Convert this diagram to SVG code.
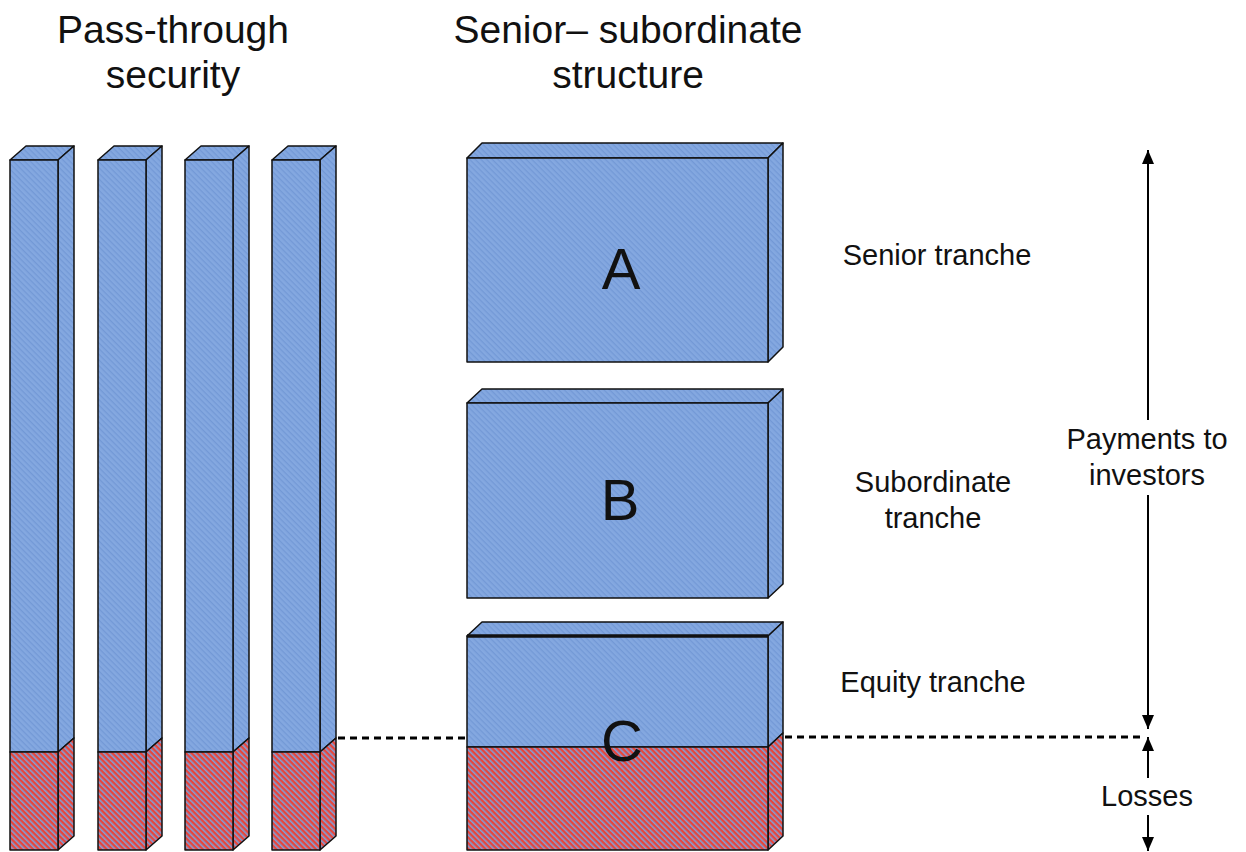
<svg xmlns="http://www.w3.org/2000/svg" width="1246" height="852" viewBox="0 0 1246 852">
<defs>
<pattern id="blue" width="4" height="4" patternUnits="userSpaceOnUse" patternTransform="rotate(45)">
<rect width="4" height="4" fill="#84a8e0"/>
<rect width="4" height="1.3" fill="#7399d6"/>
</pattern>
<pattern id="red" width="4" height="4" patternUnits="userSpaceOnUse" patternTransform="rotate(45)">
<rect width="4" height="4" fill="#7fa0da"/>
<rect width="4" height="2.4" fill="#e8453a"/>
</pattern>
<marker id="ah" viewBox="0 0 14 12" refX="14" refY="6" markerWidth="14" markerHeight="12" markerUnits="userSpaceOnUse" orient="auto">
<path d="M0,0 L14,6 L0,12 z" fill="#000"/>
</marker>
</defs>
<style>
.f{stroke:#111;stroke-width:1.5;stroke-linejoin:round}
.b{fill:url(#blue)}
.r{fill:url(#red)}
.t{font-family:"Liberation Sans",Arial,sans-serif;fill:#111;text-anchor:middle}
.h{font-size:39px}
.l{font-size:29px}
.L{font-size:58px}
.c{stroke:#000;stroke-width:2;fill:none}
.d{stroke:#000;stroke-width:3;stroke-dasharray:7,5;fill:none}
</style>

<g id="titles">
<text class="t h" x="173" y="43">Pass-through</text>
<text class="t h" x="173" y="88">security</text>
<text class="t h" x="628" y="43">Senior– subordinate</text>
<text class="t h" x="628" y="88">structure</text>
</g>

<g id="pillar1">
<path class="f b" d="M10,160 L26,146 L74,146 L58,160 Z"/>
<path class="f b" d="M58,160 L74,146 L74,738 L58,752 Z"/>
<path class="f r" d="M58,752 L74,738 L74,836 L58,850 Z"/>
<rect class="f b" x="10" y="160" width="48" height="592"/>
<rect class="f r" x="10" y="752" width="48" height="98"/>
</g>
<g id="pillar2">
<path class="f b" d="M98,160 L114,146 L162,146 L146,160 Z"/>
<path class="f b" d="M146,160 L162,146 L162,738 L146,752 Z"/>
<path class="f r" d="M146,752 L162,738 L162,836 L146,850 Z"/>
<rect class="f b" x="98" y="160" width="48" height="592"/>
<rect class="f r" x="98" y="752" width="48" height="98"/>
</g>
<g id="pillar3">
<path class="f b" d="M185,160 L201,146 L249,146 L233,160 Z"/>
<path class="f b" d="M233,160 L249,146 L249,738 L233,752 Z"/>
<path class="f r" d="M233,752 L249,738 L249,836 L233,850 Z"/>
<rect class="f b" x="185" y="160" width="48" height="592"/>
<rect class="f r" x="185" y="752" width="48" height="98"/>
</g>
<g id="pillar4">
<path class="f b" d="M272,160 L288,146 L336,146 L320,160 Z"/>
<path class="f b" d="M320,160 L336,146 L336,738 L320,752 Z"/>
<path class="f r" d="M320,752 L336,738 L336,836 L320,850 Z"/>
<rect class="f b" x="272" y="160" width="48" height="592"/>
<rect class="f r" x="272" y="752" width="48" height="98"/>
</g>

<g id="trancheA">
<path class="f b" d="M467,158 L482,143 L783,143 L768,158 Z"/>
<path class="f b" d="M768,158 L783,143 L783,347 L768,362 Z"/>
<rect class="f b" x="467" y="158" width="301" height="204"/>
<text class="t L" x="621" y="289">A</text>
</g>
<g id="trancheB">
<path class="f b" d="M467,403 L482,389 L783,389 L768,403 Z"/>
<path class="f b" d="M768,403 L783,389 L783,584 L768,598 Z"/>
<rect class="f b" x="467" y="403" width="301" height="195"/>
<text class="t L" x="620" y="520">B</text>
</g>
<g id="trancheC">
<path class="f b" d="M467,636 L482,622 L783,622 L768,636 Z"/>
<path class="f b" d="M768,636 L783,622 L783,733 L768,747 Z"/>
<path class="f r" d="M768,747 L783,733 L783,836 L768,850 Z"/>
<rect class="f b" x="467" y="636" width="301" height="111"/>
<rect class="f r" x="467" y="747" width="301" height="103"/>
<line x1="467" y1="636" x2="768" y2="636" stroke="#111" stroke-width="3.5"/>
<text class="t L" x="622" y="761">C</text>
</g>

<g id="labels">
<text class="t l" x="937" y="265">Senior tranche</text>
<text class="t l" x="933" y="492">Subordinate</text>
<text class="t l" x="933" y="528">tranche</text>
<text class="t l" x="933" y="692">Equity tranche</text>
<text class="t l" x="1147" y="449">Payments to</text>
<text class="t l" x="1147" y="485">investors</text>
<text class="t l" x="1147" y="806">Losses</text>
</g>

<g id="connectors">
<line class="d" x1="338" y1="738" x2="466" y2="738"/>
<line class="d" x1="785" y1="737" x2="1140" y2="737"/>
<line class="c" x1="1148" y1="420" x2="1148" y2="150" marker-end="url(#ah)"/>
<line class="c" x1="1148" y1="495" x2="1148" y2="729" marker-end="url(#ah)"/>
<line class="c" x1="1148" y1="778" x2="1148" y2="737" marker-end="url(#ah)"/>
<line class="c" x1="1148" y1="815" x2="1148" y2="851" marker-end="url(#ah)"/>
</g>
</svg>
